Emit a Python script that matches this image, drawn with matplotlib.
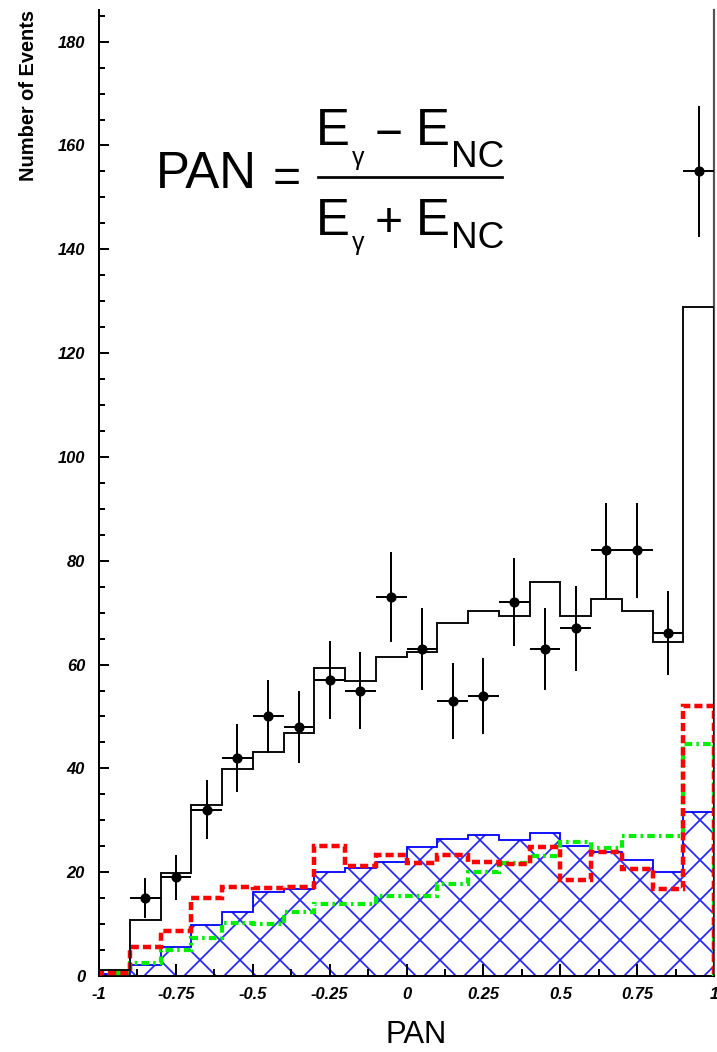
import numpy as np
import matplotlib
matplotlib.use("Agg")
from matplotlib import pyplot as plt
from matplotlib.lines import Line2D
from matplotlib.ticker import MultipleLocator, FixedLocator, FixedFormatter

# picture size in px, dpi chosen so the default 'x' hatch spacing comes out ~40 px
W, H = 717, 1052
DPI = 120
PT = 72.0 / DPI   # one pixel in points

# ---- data ----
bin_edges = np.linspace(-1, 1, 21)

data_counts = [np.nan, 15, 19, 32, 42, 50, 48, 57, 55, 73,
               63, 53, 54, 72, 63, 67, 82, 82, 66, 155]
data_err = [np.nan, 3.9, 4.4, 5.7, 6.5, 7.1, 6.9, 7.5, 7.4, 8.6,
            7.9, 7.3, 7.3, 8.5, 7.9, 8.2, 9.1, 9.1, 8.1, 12.6]

mc_total = [1.2, 10.8, 19.8, 33.0, 39.9, 43.2, 46.9, 59.4, 56.8, 61.5,
            62.5, 68.0, 70.3, 69.4, 76.0, 69.4, 72.7, 70.3, 64.4, 128.8]
mc_red = [0.5, 5.5, 8.7, 15.0, 17.1, 16.9, 17.2, 25.1, 21.1, 23.3,
          21.8, 23.4, 22.0, 21.5, 24.8, 18.4, 23.8, 20.7, 16.8, 52.1]
mc_green = [0.5, 2.6, 5.1, 7.3, 10.3, 10.1, 12.3, 13.9, 13.9, 15.5,
            15.4, 17.7, 20.1, 21.7, 23.1, 25.8, 24.6, 27.0, 27.0, 44.6]
mc_blue = [0.3, 2.1, 5.5, 9.8, 12.3, 16.2, 16.7, 20.0, 20.9, 22.0,
           24.8, 26.4, 27.2, 26.2, 27.6, 25.0, 23.9, 22.4, 20.1, 31.5]

x_tick_vals = [-1, -0.75, -0.5, -0.25, 0, 0.25, 0.5, 0.75, 1]
x_tick_labels = ["-1", "-0.75", "-0.5", "-0.25", "0", "0.25", "0.5", "0.75", "1"]
y_tick_vals = [0, 20, 40, 60, 80, 100, 120, 140, 160, 180]

plt.rcParams['font.family'] = ['Liberation Sans', 'DejaVu Sans']
plt.rcParams['hatch.linewidth'] = 1.8 * PT
plt.rcParams['hatch.color'] = '#2a2aff'

fig = plt.figure(figsize=(W / DPI, H / DPI), dpi=DPI)
ax = fig.add_axes([99 / W, (H - 976) / H, (714 - 99) / W, (976 - 10) / H])

# blue hatched component
ax.stairs(mc_blue, bin_edges, baseline=0, fill=True, hatch='x',
          facecolor='none', edgecolor='#2a2aff', linewidth=0, zorder=1)
ax.stairs(mc_blue, bin_edges, baseline=0, color='#0000ff',
          linewidth=1.8 * PT, zorder=2)

# green dash-dot and red dashed components
ax.stairs(mc_green, bin_edges, baseline=0, color='#00ee00',
          linewidth=4.2 * PT, linestyle=(0, (1.8, 1.0, 0.6, 1.0)), zorder=3)
ax.stairs(mc_red, bin_edges, baseline=0, color='#ff0000',
          linewidth=4.5 * PT, linestyle=(0, (1.8, 0.9)), zorder=4)

# total MC
ax.stairs(mc_total, bin_edges, baseline=0, color='#111111',
          linewidth=2.0 * PT, zorder=5)

# data points
centers = 0.5 * (bin_edges[:-1] + bin_edges[1:])
half = 0.5 * np.diff(bin_edges)
ax.errorbar(centers, data_counts, yerr=data_err, xerr=half, fmt='o',
            color='black', markersize=8.5 * PT, elinewidth=2.0 * PT,
            capsize=0, zorder=6)

ax.set_xlim(-1, 1)
ax.set_ylim(0, 186.1)

ax.spines['top'].set_visible(False)
ax.spines['right'].set_color('#555555')
ax.spines['right'].set_linewidth(2.2 * PT)
ax.spines['left'].set_linewidth(2.0 * PT)
ax.spines['bottom'].set_linewidth(2.0 * PT)

ax.xaxis.set_major_locator(FixedLocator(x_tick_vals))
ax.xaxis.set_major_formatter(FixedFormatter(x_tick_labels))
ax.xaxis.set_minor_locator(MultipleLocator(0.125))
ax.yaxis.set_major_locator(FixedLocator(y_tick_vals))
ax.yaxis.set_minor_locator(MultipleLocator(5))

ax.tick_params(axis='both', which='both', direction='in', width=2.0 * PT,
               top=False, right=False)
ax.tick_params(axis='x', which='major', length=12 * PT, pad=11 * PT)
ax.tick_params(axis='x', which='minor', length=7 * PT)
ax.tick_params(axis='y', which='major', length=10 * PT, pad=14 * PT)
ax.tick_params(axis='y', which='minor', length=6 * PT)
for lab in ax.get_xticklabels() + ax.get_yticklabels():
    lab.set_fontsize(16.5 * PT)
    lab.set_fontweight('bold')
    lab.set_fontstyle('italic')

# axis titles
fig.text(29 / W, 1 - 10 / H, "Number of Events", rotation=90, ha='center',
         va='top', fontsize=20 * PT, fontweight='bold')
fig.text(416 / W, 1 - 1043 / H, "PAN", ha='center', va='baseline',
         fontsize=31 * PT)


# formula, placed piece by piece (left x, baseline y in px)
def put(x, y, s, size, fam=None):
    kw = {}
    if fam:
        kw['family'] = fam
    fig.text(x / W, 1 - y / H, s, ha='left', va='baseline',
             fontsize=size * PT, **kw)


narrow = ['Liberation Sans Narrow', 'Liberation Sans']
put(156, 188, "PAN", 51)
put(273, 192, "=", 48)
fig.add_artist(Line2D([318 / W, 502 / W], [1 - 177 / H, 1 - 177 / H],
                      transform=fig.transFigure, color='black',
                      linewidth=2.7 * PT))
put(316, 145, "E", 51)
put(352, 165, "\u03b3", 25)
put(375, 148, "\u2212", 48)
put(416, 145, "E", 51)
put(451, 167, "NC", 37, narrow)
put(316, 235, "E", 51)
put(352, 250, "\u03b3", 25)
put(375, 236, "+", 48)
put(416, 235, "E", 51)
put(451, 248, "NC", 37, narrow)

fig.savefig("out.png", dpi=DPI)
